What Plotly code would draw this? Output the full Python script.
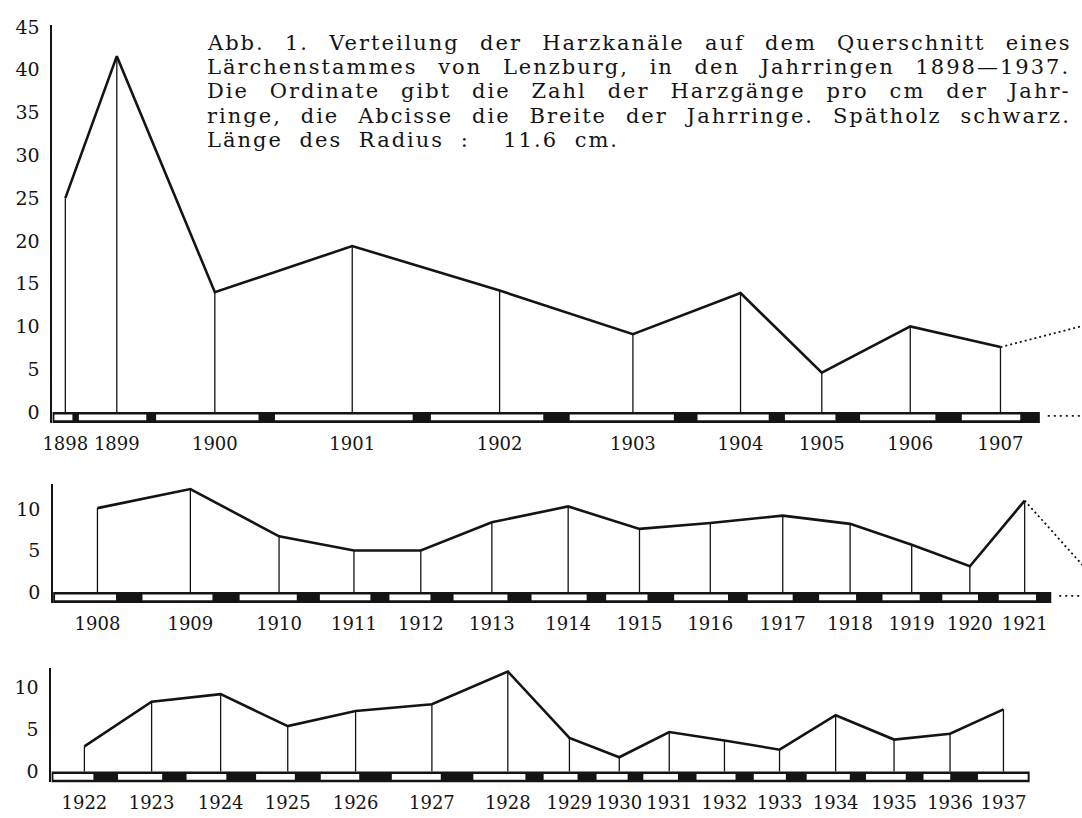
import plotly.graph_objects as go
import numpy as np

W, H = 1082, 818

# ---------------- data (ring widths in mm, canal counts per cm) ----------------
years_1 = [1898, 1899, 1900, 1901, 1902, 1903, 1904, 1905, 1906, 1907]
early_1 = [0.81, 2.69, 4.06, 5.44, 4.45, 4.13, 2.84, 2.03, 3.00, 2.34]
late_1 = [0.20, 0.33, 0.59, 0.66, 0.98, 0.87, 0.58, 0.91, 0.98, 0.74]
canals_1 = [25.0, 41.6, 14.0, 19.4, 14.2, 9.1, 13.9, 4.6, 10.0, 7.6]

years_2 = [1908, 1909, 1910, 1911, 1912, 1913, 1914, 1915, 1916, 1917, 1918, 1919, 1920, 1921]
early_2 = [2.49, 2.79, 2.29, 2.03, 1.66, 2.16, 2.21, 1.67, 2.16, 1.81, 1.50, 1.51, 1.45, 1.51]
late_2 = [0.98, 1.01, 0.85, 0.69, 0.85, 0.89, 0.71, 0.99, 0.72, 0.98, 0.98, 0.83, 0.76, 0.57]
canals_2 = [10.1, 12.4, 6.7, 5.0, 5.0, 8.4, 10.3, 7.6, 8.3, 9.2, 8.2, 5.7, 3.1, 11.0]

years_3 = [1922, 1923, 1924, 1925, 1926, 1927, 1928, 1929, 1930, 1931, 1932, 1933, 1934, 1935, 1936, 1937]
early_3 = [1.67, 1.78, 1.61, 1.57, 1.56, 1.97, 2.09, 1.38, 1.27, 1.41, 1.58, 1.31, 1.74, 1.61, 1.10, 2.05]
late_3 = [0.91, 0.90, 1.11, 0.96, 1.22, 1.22, 0.66, 0.69, 0.56, 0.67, 0.66, 0.76, 0.58, 0.64, 1.03, 0.00]
canals_3 = [3.0, 8.3, 9.2, 5.4, 7.2, 8.0, 11.9, 4.0, 1.7, 4.7, 3.7, 2.6, 6.7, 3.8, 4.5, 7.4]

yticks_1 = [0, 5, 10, 15, 20, 25, 30, 35, 40, 45]
yticks_2 = [0, 5, 10]
yticks_3 = [0, 5, 10]

caption_lines = [
    "Abb. 1. Verteilung der Harzkanäle auf dem Querschnitt eines",
    "Lärchenstammes von Lenzburg, in den Jahrringen 1898—1937.",
    "Die Ordinate gibt die Zahl der Harzgänge pro cm der Jahr-",
    "ringe, die Abcisse die Breite der Jahrringe. Spätholz schwarz.",
    "Länge des Radius :  11.6 cm.",
]
# extra word spacing (px) used to justify each caption line
caption_wordspace = [11.6, 12.0, 12.2, 10.2, 8]

# ---------------- layout geometry (pixels) ----------------
PX_PER_MM = 25.8
BAND_PX = 11
panels = [
    dict(years=years_1, early=early_1, late=late_1, vals=canals_1, yt=yticks_1,
         x0=42.8, zero=407.5, ppu=8.65, top=16),
    dict(years=years_2, early=early_2, late=late_2, vals=canals_2, yt=yticks_2,
         x0=43.5, zero=589.5, ppu=8.4, top=480),
    dict(years=years_3, early=early_3, late=late_3, vals=canals_3, yt=yticks_3,
         x0=41.8, zero=771.0, ppu=8.5, top=666),
]

SERIF = "DejaVu Serif"
INK = "#141414"

fig = go.Figure()
shapes = []

for i, p in enumerate(panels):
    n = i + 1
    xa = "x" if n == 1 else f"x{n}"
    ya = "y" if n == 1 else f"y{n}"
    ew = np.array(p["early"])
    lw = np.array(p["late"])
    ring = ew + lw
    starts = np.concatenate([[0], np.cumsum(ring)[:-1]])
    centers = starts + ring / 2
    end = float(np.sum(ring))
    band = BAND_PX / p["ppu"]
    xmax = (W - p["x0"]) / PX_PER_MM
    mmpx = 1 / PX_PER_MM
    upx = 1 / p["ppu"]

    # band: black latewood background + white earlywood
    shapes.append(dict(type="rect", xref=xa, yref=ya, x0=0, x1=end, y0=-band, y1=0,
                       fillcolor=INK, line=dict(width=0), layer="below"))
    for k in range(len(ew)):
        a = starts[k] + (2.0 * mmpx if k == 0 else 0.7 * mmpx)
        b = starts[k] + ew[k] - (2.0 * mmpx if lw[k] == 0 else 0.7 * mmpx)
        shapes.append(dict(type="rect", xref=xa, yref=ya, x0=a, x1=b,
                           y0=-band + 2.6 * upx, y1=-2.4 * upx,
                           fillcolor="white", line=dict(width=0), layer="below"))

    # vertical drop lines
    vx, vy = [], []
    for c, v in zip(centers, p["vals"]):
        vx += [c, c, None]
        vy += [0, v, None]
    fig.add_trace(go.Scatter(x=vx, y=vy, mode="lines", xaxis=xa, yaxis=ya,
                             line=dict(color=INK, width=1.3), hoverinfo="skip",
                             showlegend=False))
    # main polyline
    fig.add_trace(go.Scatter(x=centers, y=p["vals"], mode="lines", xaxis=xa, yaxis=ya,
                             line=dict(color=INK, width=2.6), showlegend=False))

    # dotted continuation to next panel
    if i < len(panels) - 1:
        q = panels[i + 1]
        nxt_c = end + (q["early"][0] + q["late"][0]) / 2
        fig.add_trace(go.Scatter(x=[centers[-1], nxt_c], y=[p["vals"][-1], q["vals"][0]],
                                 mode="lines", xaxis=xa, yaxis=ya,
                                 line=dict(color=INK, width=1.8, dash="2px,3px"),
                                 showlegend=False, hoverinfo="skip"))
        fig.add_trace(go.Scatter(x=[end + 8 * mmpx, xmax], y=[-band * 0.35, -band * 0.35],
                                 mode="lines", xaxis=xa, yaxis=ya,
                                 line=dict(color=INK, width=1.8, dash="2px,4px"),
                                 showlegend=False, hoverinfo="skip"))

    xdom = [p["x0"] / W, 1.0]
    ydom = [(H - (p["zero"] + BAND_PX)) / H, (H - p["top"]) / H]
    fig.layout[("xaxis" if n == 1 else f"xaxis{n}")] = dict(
        domain=xdom, range=[0, xmax], anchor=ya, showgrid=False, zeroline=False,
        showline=False, ticks="", tickmode="array", tickvals=list(centers),
        ticktext=[str(y) for y in p["years"]], ticklabelstandoff=8, tickangle=0,
        tickfont=dict(family=SERIF, size=18, color=INK))
    fig.layout[("yaxis" if n == 1 else f"yaxis{n}")] = dict(
        domain=ydom, range=[-band, (p["zero"] - p["top"]) / p["ppu"]], anchor=xa,
        showgrid=False, zeroline=False, showline=True, linecolor=INK, linewidth=1.8,
        ticks="", tickmode="array", tickvals=p["yt"], ticklabelstandoff=7,
        tickfont=dict(family=SERIF, size=19, color=INK))

CAP_X, CAP_Y0, CAP_DY = 197, 34, 24.6
for j, (line, ws) in enumerate(zip(caption_lines, caption_wordspace)):
    fig.add_annotation(
        xref="paper", yref="paper", x=CAP_X / W, y=(H - (CAP_Y0 + j * CAP_DY)) / H,
        xanchor="left", yanchor="middle", align="left", showarrow=False,
        text=f"<span style='letter-spacing:2px;word-spacing:{ws}px'>{line}</span>",
        font=dict(family=SERIF, size=21, color=INK))

fig.update_layout(width=W, height=H, margin=dict(l=0, r=0, t=0, b=0),
                  paper_bgcolor="white", plot_bgcolor="rgba(0,0,0,0)",
                  shapes=shapes, showlegend=False)

fig.write_html("out.html", config={"displayModeBar": False},
               post_script="document.body.style.margin='0';document.body.style.padding='0';"
                           "document.documentElement.style.overflow='hidden';")
